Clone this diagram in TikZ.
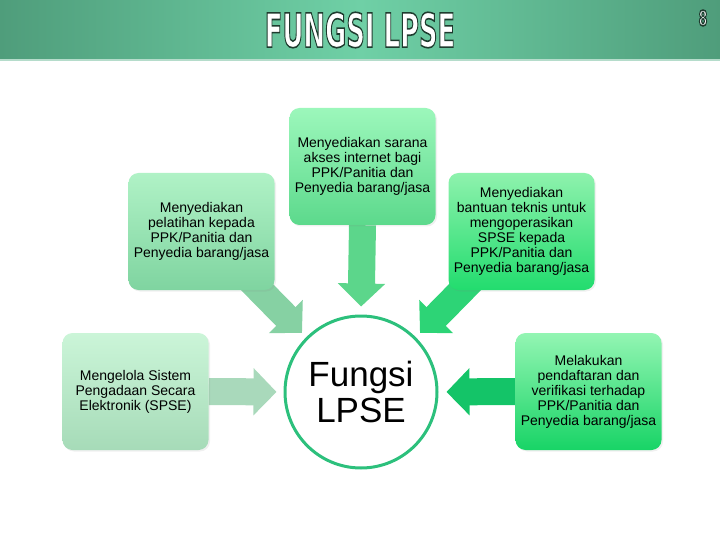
\documentclass[tikz,border=0pt]{standalone}
\usepackage{fontspec}
\setmainfont{Liberation Sans}
\newfontfamily\titlefont{DejaVu Sans}
\usetikzlibrary{arrows.meta,backgrounds,shadows}

\definecolor{bandside}{HTML}{4F9D7B}
\definecolor{bandmid}{HTML}{6FD0A6}
\definecolor{bandline}{HTML}{B5DCCB}
\definecolor{ringgreen}{HTML}{2CC07C}

% white letters with a dark green outline (text render mode 2)
\newcommand{\outlined}[1]{\special{pdf:code 2 Tr 1.6 w 0.118 0.231 0.18 RG}#1\special{pdf:code 0 Tr}}

\tikzset{
  infobox/.style={rounded corners=10pt, minimum width=146pt, minimum height=117pt,
    align=center, inner sep=2pt, font=\fontsize{14}{15}\selectfont,
    drop shadow={shadow xshift=1.5pt, shadow yshift=-1.5pt, opacity=0.12}},
  blockarrow/.style={line width=27pt, -{Triangle[width=46pt, length=23pt]}},
  titletext/.style={font=\titlefont\bfseries\fontsize{47}{47}\selectfont, xscale=0.55, inner sep=0pt, text=white},
  pagetext/.style={font=\titlefont\bfseries\fontsize{21}{21}\selectfont, xscale=0.6, inner sep=0pt, text=white}
}

\begin{document}
\begin{tikzpicture}[x=1pt, y=-1pt]
    \useasboundingbox (0,0) rectangle (720,540);
    \shade[left color=bandside, right color=bandside, middle color=bandmid] (0,0) rectangle (720,59);
    \fill[bandline] (0,59) rectangle (720,61);
    \node[titletext] (title) at (360,30) {\outlined{FUNGSI LPSE}};
    \node[pagetext] (page) at (703,18) {\outlined{8}};

    \node[infobox, top color={rgb,255:red,156;green,247;blue,187},
          bottom color={rgb,255:red,92;green,217;blue,140}] (boxT) at (362.5,166.5)
        {Menyediakan sarana\\akses internet bagi\\PPK/Panitia dan\\Penyedia barang/jasa};
    \node[infobox, top color={rgb,255:red,176;green,242;blue,198},
          bottom color={rgb,255:red,127;green,212;blue,160}] (boxL) at (201.5,231.5)
        {Menyediakan\\pelatihan kepada\\PPK/Panitia dan\\Penyedia barang/jasa};
    \node[infobox, top color={rgb,255:red,142;green,242;blue,173},
          bottom color={rgb,255:red,34;green,220;blue,110}] (boxR) at (521.5,231.5)
        {Menyediakan\\bantuan teknis untuk\\mengoperasikan\\SPSE kepada\\PPK/Panitia dan\\Penyedia barang/jasa};
    \node[infobox, top color={rgb,255:red,203;green,245;blue,216},
          bottom color={rgb,255:red,166;green,219;blue,184}] (boxBL) at (135.5,391.5)
        {Mengelola Sistem\\Pengadaan Secara\\Elektronik (SPSE)};
    \node[infobox, top color={rgb,255:red,147;green,245;blue,179},
          bottom color={rgb,255:red,24;green,212;blue,102}] (boxBR) at (588.5,391.5)
        {Melakukan\\pendaftaran dan\\verifikasi terhadap\\PPK/Panitia dan\\Penyedia barang/jasa};

    \node[circle, draw=ringgreen, line width=3pt, fill=white, minimum size=152pt, align=center,
          inner sep=0pt, font=\fontsize{35}{36}\selectfont] (circ) at (361,392) {Fungsi\\LPSE};

    \coordinate (dl) at (250,280);
    \coordinate (dr) at (472,280);
    \begin{scope}[on background layer]
        \draw[blockarrow, draw={rgb,255:red,92;green,214;blue,139}, fill={rgb,255:red,92;green,214;blue,139},
              shorten >=8pt] (boxT.south) -- (circ.north);
        \draw[blockarrow, draw={rgb,255:red,134;green,209;blue,163}, fill={rgb,255:red,134;green,209;blue,163},
              shorten >=6pt] (dl) -- (circ.north west);
        \draw[blockarrow, draw={rgb,255:red,45;green,212;blue,118}, fill={rgb,255:red,45;green,212;blue,118},
              shorten >=6pt] (dr) -- (circ.north east);
        \draw[blockarrow, draw={rgb,255:red,169;green,217;blue,187}, fill={rgb,255:red,169;green,217;blue,187},
              shorten >=7pt] (boxBL.east) -- (circ.west);
        \draw[blockarrow, draw={rgb,255:red,20;green,196;blue,104}, fill={rgb,255:red,20;green,196;blue,104},
              shorten >=8pt] (boxBR.west) -- (circ.east);
    \end{scope}
\end{tikzpicture}
\end{document}
